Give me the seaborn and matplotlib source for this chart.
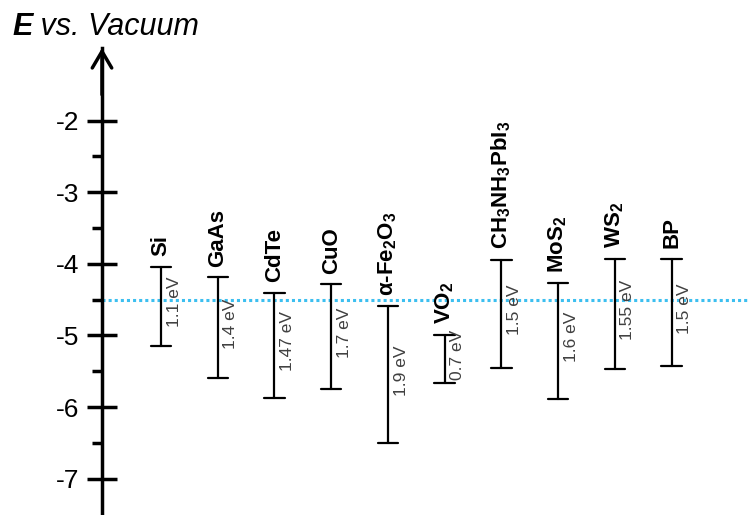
import matplotlib
matplotlib.use("Agg")
import matplotlib.pyplot as plt
import seaborn as sns
import pandas as pd

# ---- data ----
materials = ['Si', 'GaAs', 'CdTe', 'CuO', 'α-Fe$_2$O$_3$', 'VO$_2$',
             'CH$_3$NH$_3$PbI$_3$', 'MoS$_2$', 'WS$_2$', 'BP']
conduction = [-4.04, -4.19, -4.40, -4.28, -4.59, -4.99, -3.94, -4.27, -3.93, -3.93]
valence = [-5.14, -5.59, -5.87, -5.75, -6.50, -5.67, -5.45, -5.88, -5.47, -5.43]
gap_labels = ['1.1 eV', '1.4 eV', '1.47 eV', '1.7 eV', '1.9 eV', '0.7 eV',
              '1.5 eV', '1.6 eV', '1.55 eV', '1.5 eV']
vacuum_ref = -4.5
major_ticks = [-7, -6, -5, -4, -3, -2]
minor_ticks = [-6.5, -5.5, -4.5, -3.5, -2.5]

sns.set_style('ticks')
plt.rcParams['font.family'] = ['Liberation Sans', 'DejaVu Sans']
plt.rcParams['mathtext.fontset'] = 'custom'
plt.rcParams['mathtext.rm'] = 'Liberation Sans'
plt.rcParams['mathtext.bf'] = 'Liberation Sans:bold'
plt.rcParams['mathtext.default'] = 'bf'
plt.rcParams['axes.unicode_minus'] = False

df = pd.DataFrame({
    'material': materials * 2,
    'energy': conduction + valence,
})

fig = plt.figure(figsize=(7.49, 5.15), dpi=100)
ax = fig.add_axes([102 / 749, 0.0, 1 - 102 / 749, (515 - 48) / 515])

sns.pointplot(data=df, x='material', y='energy', order=materials,
              errorbar=('pi', 100), capsize=0.36, color='black',
              marker='', linestyle='none',
              err_kws={'linewidth': 1.6}, ax=ax)

ax.axhline(vacuum_ref, color='#3cbff0', lw=2.2, ls=(0, (1, 1)), zorder=1)

for i, (name, cb, vb, gl) in enumerate(zip(materials, conduction, valence, gap_labels)):
    ax.annotate(name, xy=(i, cb), xytext=(0, 7.5), textcoords='offset points',
                rotation=90, ha='center', va='bottom', fontsize=16,
                fontweight='bold', color='black')
    ax.annotate(gl, xy=(i, (cb + vb) / 2), xytext=(9.4, 3), textcoords='offset points',
                rotation=90, ha='center', va='center', fontsize=12.5,
                color='#404040')

ax.set_xlim(-1.04, 10.363)
ax.set_ylim(-7.507, -0.985)
ax.set_yticks(major_ticks)
ax.set_yticklabels([str(t) for t in major_ticks])
ax.set_yticks(minor_ticks, minor=True)
ax.set_xticks([])
ax.set_xlabel('')
ax.set_ylabel('')
for s in ['top', 'right', 'bottom']:
    ax.spines[s].set_visible(False)
ax.spines['left'].set_linewidth(2.5)
ax.spines['left'].set_color('black')
ax.tick_params(axis='y', which='major', direction='inout', length=21.6,
               width=2.5, labelsize=19, pad=5.8, color='black', labelcolor='black')
ax.tick_params(axis='y', which='minor', direction='out', length=7.2,
               width=2.5, color='black')

ax.annotate('', xy=(0, 1), xycoords='axes fraction', xytext=(0, 0.9),
            arrowprops=dict(arrowstyle='->,head_length=0.85,head_width=0.5',
                            lw=2.5, color='black', mutation_scale=14,
                            shrinkA=0, shrinkB=0),
            annotation_clip=False)

etxt = fig.text(12 / 749, 1 - 35 / 515, 'E', fontsize=22, style='italic',
                weight='bold', ha='left', va='baseline', color='black')
ax.annotate(' vs. Vacuum', xy=(1, 0), xycoords=etxt, ha='left', va='bottom',
            fontsize=22, style='italic', color='black', annotation_clip=False)

fig.savefig('out.png', dpi=100)
